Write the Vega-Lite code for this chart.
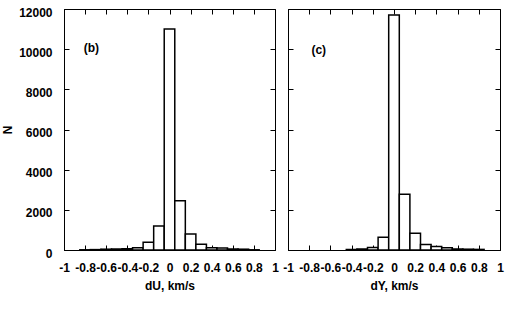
{
 "$schema": "https://vega.github.io/schema/vega-lite/v6.json",
 "padding": {"left": 1, "top": 5, "right": 5, "bottom": 5},
 "background": "white",
 "spacing": 13,
 "bounds": "flush",
 "config": {
   "font": "Liberation Sans",
   "locale": {"number": {"decimal": ".", "thousands": ",", "grouping": [3], "currency": ["$", ""], "minus": "-"}},
   "view": {"stroke": "black", "strokeWidth": 1},
   "axis": {"domainColor": "black", "tickColor": "black", "labelColor": "black", "titleColor": "black", "labelFontSize": 12, "labelFontWeight": "bold", "titleFontSize": 12, "titleFontWeight": "bold", "grid": false, "tickSize": -5, "labelOverlap": false, "labelFlush": false, "labelBound": false}
 },
 "datasets": {
   "b": [
     {"x0": -0.85, "x1": -0.75, "n": 10},
     {"x0": -0.75, "x1": -0.65, "n": 20},
     {"x0": -0.65, "x1": -0.55, "n": 40},
     {"x0": -0.55, "x1": -0.45, "n": 50},
     {"x0": -0.45, "x1": -0.35, "n": 60},
     {"x0": -0.35, "x1": -0.25, "n": 115},
     {"x0": -0.25, "x1": -0.15, "n": 380},
     {"x0": -0.15, "x1": -0.05, "n": 1190},
     {"x0": -0.05, "x1": 0.05, "n": 11000},
     {"x0": 0.05, "x1": 0.15, "n": 2450},
     {"x0": 0.15, "x1": 0.25, "n": 800},
     {"x0": 0.25, "x1": 0.35, "n": 290},
     {"x0": 0.35, "x1": 0.45, "n": 110},
     {"x0": 0.45, "x1": 0.55, "n": 100},
     {"x0": 0.55, "x1": 0.65, "n": 50},
     {"x0": 0.65, "x1": 0.75, "n": 40},
     {"x0": 0.75, "x1": 0.85, "n": 10}
   ],
   "c": [
     {"x0": -0.45, "x1": -0.35, "n": 20},
     {"x0": -0.35, "x1": -0.25, "n": 50},
     {"x0": -0.25, "x1": -0.15, "n": 130},
     {"x0": -0.15, "x1": -0.05, "n": 630},
     {"x0": -0.05, "x1": 0.05, "n": 11700},
     {"x0": 0.05, "x1": 0.15, "n": 2770},
     {"x0": 0.15, "x1": 0.25, "n": 830},
     {"x0": 0.25, "x1": 0.35, "n": 280},
     {"x0": 0.35, "x1": 0.45, "n": 180},
     {"x0": 0.45, "x1": 0.55, "n": 115},
     {"x0": 0.55, "x1": 0.65, "n": 50},
     {"x0": 0.65, "x1": 0.75, "n": 40},
     {"x0": 0.75, "x1": 0.85, "n": 30}
   ]
 },
 "hconcat": [
  {
   "width": 211, "height": 241,
   "layer": [
    {"data": {"name": "b"},
     "mark": {"type": "rect", "fill": "white", "stroke": "black", "strokeWidth": 1.5},
     "encoding": {
       "x": {"field": "x0", "type": "quantitative", "scale": {"domain": [-1, 1], "nice": false, "zero": false}, "axis": {"orient": "bottom", "values": [-1, -0.8, -0.6, -0.4, -0.2, 0, 0.2, 0.4, 0.6, 0.8, 1], "format": "~g", "title": "dU, km/s", "labelPadding": 17, "titlePadding": 7}},
       "x2": {"field": "x1"},
       "y": {"field": "n", "type": "quantitative", "scale": {"domain": [0, 12000], "nice": false, "zero": true}, "axis": {"orient": "left", "values": [0, 2000, 4000, 6000, 8000, 10000, 12000], "format": "d", "title": "N", "labelPadding": 17, "labelOffset": 3, "titlePadding": 4}},
       "y2": {"datum": 0}
     }},
    {"data": {"name": "b"},
     "mark": {"type": "rect", "opacity": 0},
     "encoding": {
       "x": {"field": "x0", "type": "quantitative", "axis": {"orient": "top", "labels": false, "title": null, "domain": false, "values": [-1, -0.8, -0.6, -0.4, -0.2, 0, 0.2, 0.4, 0.6, 0.8, 1]}},
       "x2": {"field": "x1"},
       "y": {"field": "n", "type": "quantitative", "axis": {"orient": "right", "labels": false, "title": null, "domain": false, "values": [0, 2000, 4000, 6000, 8000, 10000, 12000]}},
       "y2": {"datum": 0}
     }},
    {"data": {"values": [{"x": -0.74, "y": 10060, "t": "(b)"}]},
     "mark": {"type": "text", "fontSize": 12, "fontWeight": "bold", "font": "Liberation Sans"},
     "encoding": {
       "x": {"field": "x", "type": "quantitative", "axis": null},
       "y": {"field": "y", "type": "quantitative", "axis": null},
       "text": {"field": "t"}
     }}
   ],
   "resolve": {"axis": {"x": "independent", "y": "independent"}}
  },
  {
   "width": 212, "height": 241,
   "layer": [
    {"data": {"name": "c"},
     "mark": {"type": "rect", "fill": "white", "stroke": "black", "strokeWidth": 1.5},
     "encoding": {
       "x": {"field": "x0", "type": "quantitative", "scale": {"domain": [-1, 1], "nice": false, "zero": false}, "axis": {"orient": "bottom", "values": [-1, -0.8, -0.6, -0.4, -0.2, 0, 0.2, 0.4, 0.6, 0.8, 1], "format": "~g", "title": "dY, km/s", "labelPadding": 17, "titlePadding": 7}},
       "x2": {"field": "x1"},
       "y": {"field": "n", "type": "quantitative", "scale": {"domain": [0, 12000], "nice": false, "zero": true}, "axis": {"orient": "left", "values": [0, 2000, 4000, 6000, 8000, 10000, 12000], "labels": false, "title": null}},
       "y2": {"datum": 0}
     }},
    {"data": {"name": "c"},
     "mark": {"type": "rect", "opacity": 0},
     "encoding": {
       "x": {"field": "x0", "type": "quantitative", "axis": {"orient": "top", "labels": false, "title": null, "domain": false, "values": [-1, -0.8, -0.6, -0.4, -0.2, 0, 0.2, 0.4, 0.6, 0.8, 1]}},
       "x2": {"field": "x1"},
       "y": {"field": "n", "type": "quantitative", "axis": {"orient": "right", "labels": false, "title": null, "domain": false, "values": [0, 2000, 4000, 6000, 8000, 10000, 12000]}},
       "y2": {"datum": 0}
     }},
    {"data": {"values": [{"x": -0.71, "y": 9960, "t": "(c)"}]},
     "mark": {"type": "text", "fontSize": 12, "fontWeight": "bold", "font": "Liberation Sans"},
     "encoding": {
       "x": {"field": "x", "type": "quantitative", "axis": null},
       "y": {"field": "y", "type": "quantitative", "axis": null},
       "text": {"field": "t"}
     }}
   ],
   "resolve": {"axis": {"x": "independent", "y": "independent"}}
  }
 ]
}
